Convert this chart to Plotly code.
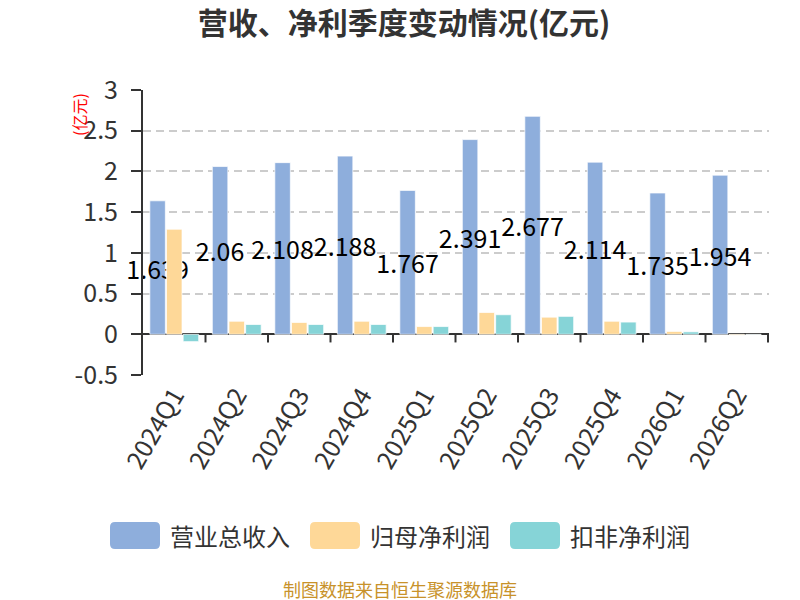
import plotly.graph_objects as go

# data (亿元)
quarters = ["2024Q1", "2024Q2", "2024Q3", "2024Q4", "2025Q1",
            "2025Q2", "2025Q3", "2025Q4", "2026Q1", "2026Q2"]
revenue = [1.639, 2.06, 2.108, 2.188, 1.767, 2.391, 2.677, 2.114, 1.735, 1.954]
net_profit = [1.29, 0.16, 0.145, 0.16, 0.095, 0.267, 0.21, 0.16, 0.035, -0.01]
deducted_profit = [-0.09, 0.12, 0.12, 0.12, 0.095, 0.24, 0.22, 0.15, 0.03, -0.004]
series_names = ["营业总收入", "归母净利润", "扣非净利润"]

y_ticks = [-0.5, 0, 0.5, 1, 1.5, 2, 2.5, 3]

font_family = "Noto Sans CJK SC, Noto Sans, sans-serif"
colors = ["#8eaedc", "#fed898", "#86d4d7"]
edge = dict(color="rgba(255,255,255,0.7)", width=1)

# the page body adds an 8px margin, so the figure is drawn 8px smaller
# and every target position below is given in window pixels minus 8
OFF = 8
W, H = 800 - OFF, 600 - OFF
L, T, PW, PH = 143 - OFF, 90 - OFF, 626, 285


def px_x(p):
    return (p - OFF - L) / PW


def px_y(p):
    return (T + PH - (p - OFF)) / PH


traces = [
    go.Bar(name=series_names[0], x=quarters, y=revenue,
           marker=dict(color=colors[0], line=edge),
           text=[f"{v:g}" for v in revenue], textposition="inside",
           insidetextanchor="middle", textangle=0, cliponaxis=False,
           insidetextfont=dict(color="#000000", size=25)),
    go.Bar(name=series_names[1], x=quarters, y=net_profit,
           marker=dict(color=colors[1], line=edge)),
    go.Bar(name=series_names[2], x=quarters, y=deducted_profit,
           marker=dict(color=colors[2], line=edge)),
]

layout = go.Layout(
    width=W, height=H,
    paper_bgcolor="white", plot_bgcolor="white",
    font=dict(family=font_family, color="#333333"),
    margin=dict(l=L, r=W - L - PW, t=T, b=H - T - PH),
    barmode="group", bargap=0.2, bargroupgap=0.07,
    uniformtext=dict(minsize=25, mode="show"),
    showlegend=False,
    title=dict(text="<b>营收、净利季度变动情况(亿元)</b>", x=0.5, xanchor="center",
               y=1 - (23 - OFF) / H, yanchor="middle",
               font=dict(size=30, color="#333333")),
    xaxis=dict(showline=False, showgrid=False, zeroline=False, ticks="",
               automargin=False, tickangle=-60, ticklabelstandoff=0,
               tickfont=dict(size=25, color="#333333")),
    yaxis=dict(range=[-0.5, 3], tickvals=y_ticks, ticktext=[f"{v:g}" for v in y_ticks],
               automargin=False,
               showline=True, linecolor="#333333", linewidth=2,
               ticks="outside", ticklen=10, tickcolor="#333333", tickwidth=2,
               ticklabelstandoff=8,
               showgrid=True, gridcolor="#cccccc", griddash="8px,5px", gridwidth=2,
               zeroline=True, zerolinecolor="#333333", zerolinewidth=2,
               tickfont=dict(size=25, color="#333333")),
)

fig = go.Figure(data=traces, layout=layout)

# legend drawn by hand: rounded swatches + labels
legend_left = [110, 310, 510]
rx, ry = 5 / PW, 5 / PH
for name, color, left in zip(series_names, colors, legend_left):
    x0, x1 = px_x(left), px_x(left + 50)
    y0, y1 = px_y(549), px_y(522)
    path = (f"M {x0 + rx},{y0} L {x1 - rx},{y0} Q {x1},{y0} {x1},{y0 + ry} "
            f"L {x1},{y1 - ry} Q {x1},{y1} {x1 - rx},{y1} L {x0 + rx},{y1} "
            f"Q {x0},{y1} {x0},{y1 - ry} L {x0},{y0 + ry} Q {x0},{y0} {x0 + rx},{y0} Z")
    fig.add_shape(type="path", xref="paper", yref="paper", path=path,
                  fillcolor=color, line=dict(width=0))
    fig.add_annotation(text=name, xref="paper", yref="paper",
                       x=px_x(left + 58), y=px_y(535.5), xanchor="left", yanchor="middle",
                       showarrow=False, font=dict(size=24, color="#333333"))

# y axis name
fig.add_annotation(text="(亿元)", xref="paper", yref="paper", x=px_x(79), y=px_y(115),
                   xanchor="center", yanchor="middle",
                   textangle=-90, showarrow=False,
                   font=dict(size=16, color="#ff0000"))

# source note
fig.add_annotation(text="制图数据来自恒生聚源数据库", xref="paper", yref="paper",
                   x=px_x(400), y=px_y(589), xanchor="center", yanchor="middle",
                   showarrow=False, font=dict(size=18, color="#c8922a"))

# tick marks on the zero axis between categories
for i in range(len(quarters)):
    fig.add_shape(type="line", xref="x", yref="y", x0=i + 0.5, x1=i + 0.5,
                  y0=0, y1=-0.1, line=dict(color="#333333", width=2))

fig.write_html("out.html")
